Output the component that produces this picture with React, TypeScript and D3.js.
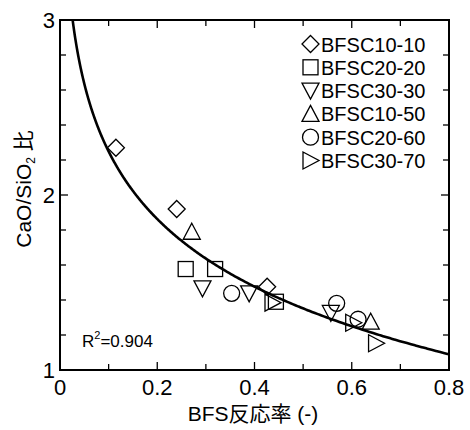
import React from "react";
import * as d3 from "d3";

const seriesNames = ["BFSC10-10", "BFSC20-20", "BFSC30-30", "BFSC10-50", "BFSC20-60", "BFSC30-70"];
const seriesShapes = ["diamond", "square", "triangleDown", "triangleUp", "circle", "triangleRight"];

const s1010 = [
  [0.115, 2.27],
  [0.24, 1.92],
  [0.426, 1.476],
];
const s2020 = [
  [0.2585, 1.577],
  [0.319, 1.577],
  [0.444, 1.39],
];
const s3030 = [
  [0.293, 1.467],
  [0.389, 1.438],
  [0.557, 1.326],
];
const s1050 = [
  [0.271, 1.79],
  [0.639, 1.276],
];
const s2060 = [
  [0.353, 1.438],
  [0.569, 1.381],
  [0.613, 1.29],
];
const s3070 = [
  [0.437, 1.385],
  [0.603, 1.27],
  [0.65, 1.153],
];
const seriesData = [s1010, s2020, s3030, s1050, s2060, s3070];

// logarithmic fit y = a + b ln(x)
const fitA = 0.9656;
const fitB = -0.5574;
const r2Text = "0.904";

const xMajorTicks = [0, 0.2, 0.4, 0.6, 0.8];
const xMinorTicks = [0.1, 0.3, 0.5, 0.7];
const yMajorTicks = [1, 2, 3];
const yMinorTicks = [1.2, 1.4, 1.6, 1.8, 2.2, 2.4, 2.6, 2.8];

const W = 470;
const H = 430;
const L = 60, R = 449, T = 20, B = 370;
const FONT = "'Liberation Sans', Arial, 'Noto Sans CJK JP', sans-serif";

function markerPath(shape: string, cx: number, cy: number): JSX.Element {
  const common = { fill: "none", stroke: "#000", strokeWidth: 1.3 };
  switch (shape) {
    case "diamond": {
      const w = 8.5, h = 8.5;
      return <path d={`M${cx},${cy - h}L${cx + w},${cy}L${cx},${cy + h}L${cx - w},${cy}Z`} {...common} />;
    }
    case "square": {
      const s = 7.5;
      return <rect x={cx - s} y={cy - s} width={2 * s} height={2 * s} {...common} />;
    }
    case "circle":
      return <circle cx={cx} cy={cy} r={8} {...common} />;
    case "triangleUp": {
      const w = 8.5, h = 7.5;
      return <path d={`M${cx},${cy - h - 1}L${cx + w},${cy + h}L${cx - w},${cy + h}Z`} {...common} />;
    }
    case "triangleDown": {
      const w = 8.5, h = 7.5;
      return <path d={`M${cx - w},${cy - h}L${cx + w},${cy - h}L${cx},${cy + h + 1}Z`} {...common} />;
    }
    case "triangleRight": {
      const w = 7.5, h = 8.5;
      return <path d={`M${cx - w},${cy - h}L${cx + w + 1},${cy}L${cx - w},${cy + h}Z`} {...common} />;
    }
  }
  return <g />;
}

export default function App() {
  const x = d3.scaleLinear().domain([0, 0.8]).range([L, R]);
  const y = d3.scaleLinear().domain([1, 3]).range([B, T]);

  const xStart = Math.exp((3 - fitA) / fitB);
  const fitPts: [number, number][] = d3
    .range(0, 301)
    .map((i) => xStart * Math.pow(0.8 / xStart, i / 300))
    .map((v) => [v, fitA + fitB * Math.log(v)]);
  const line = d3
    .line<[number, number]>()
    .x((d) => x(d[0]))
    .y((d) => y(d[1]))
    .curve(d3.curveMonotoneX);

  const majorLen = 8;
  const minorLen = 6;

  return (
    <svg width={W} height={H} style={{ position: "absolute", left: 0, top: 0 }} fontFamily={FONT}>
      <rect x={0} y={0} width={W} height={H} fill="#fff" />
      <defs>
        <clipPath id="plot">
          <rect x={L} y={T} width={R - L} height={B - T} />
        </clipPath>
      </defs>

      {/* ticks */}
      {xMajorTicks.map((t) => (
        <g key={"xM" + t}>
          <line x1={x(t)} x2={x(t)} y1={B} y2={B - majorLen} stroke="#000" strokeWidth={1.3} />
          <line x1={x(t)} x2={x(t)} y1={T} y2={T + majorLen} stroke="#000" strokeWidth={1.3} />
          <text x={x(t)} y={395} fontSize={22} textAnchor="middle">
            {t === 0 ? "0" : d3.format(".1f")(t)}
          </text>
        </g>
      ))}
      {xMinorTicks.map((t) => (
        <g key={"xm" + t}>
          <line x1={x(t)} x2={x(t)} y1={B} y2={B - minorLen} stroke="#000" strokeWidth={1.3} />
          <line x1={x(t)} x2={x(t)} y1={T} y2={T + minorLen} stroke="#000" strokeWidth={1.3} />
        </g>
      ))}
      {yMajorTicks.map((t) => (
        <g key={"yM" + t}>
          <line x1={L} x2={L + majorLen} y1={y(t)} y2={y(t)} stroke="#000" strokeWidth={1.3} />
          <line x1={R} x2={R - majorLen} y1={y(t)} y2={y(t)} stroke="#000" strokeWidth={1.3} />
          <text x={55} y={y(t) + 8} fontSize={22} textAnchor="end">
            {String(t)}
          </text>
        </g>
      ))}
      {yMinorTicks.map((t) => (
        <g key={"ym" + t}>
          <line x1={L} x2={L + minorLen} y1={y(t)} y2={y(t)} stroke="#000" strokeWidth={1.3} />
          <line x1={R} x2={R - minorLen} y1={y(t)} y2={y(t)} stroke="#000" strokeWidth={1.3} />
        </g>
      ))}

      {/* frame */}
      <rect x={L} y={T} width={R - L} height={B - T} fill="none" stroke="#000" strokeWidth={2} />

      {/* fit curve */}
      <path d={line(fitPts) || ""} fill="none" stroke="#000" strokeWidth={2.6} clipPath="url(#plot)" />

      {/* data */}
      {seriesData.map((pts, si) => (
        <g key={"s" + si}>
          {pts.map((p, i) => (
            <g key={i}>{markerPath(seriesShapes[si], x(p[0]), y(p[1]))}</g>
          ))}
        </g>
      ))}

      {/* legend */}
      {seriesNames.map((n, i) => {
        const cy = 44 + i * 23.3;
        return (
          <g key={"lg" + n}>
            {markerPath(seriesShapes[i], 310.5, cy)}
            <text x={321} y={cy + 7.5} fontSize={20}>
              {n}
            </text>
          </g>
        );
      })}

      {/* R2 */}
      <text x={82} y={347} fontSize={17}>
        R
        <tspan fontSize={11} dy={-8}>2</tspan>
        <tspan dy={8}>={r2Text}</tspan>
      </text>

      {/* axis titles */}
      <text x={253} y={421} fontSize={21} textAnchor="middle">
        BFS反応率 (-)
      </text>
      <text transform="translate(31,189) rotate(-90)" fontSize={21} textAnchor="middle">
        CaO/SiO
        <tspan fontSize={12} dy={4}>2</tspan>
        <tspan dy={-4}> 比</tspan>
      </text>
    </svg>
  );
}
